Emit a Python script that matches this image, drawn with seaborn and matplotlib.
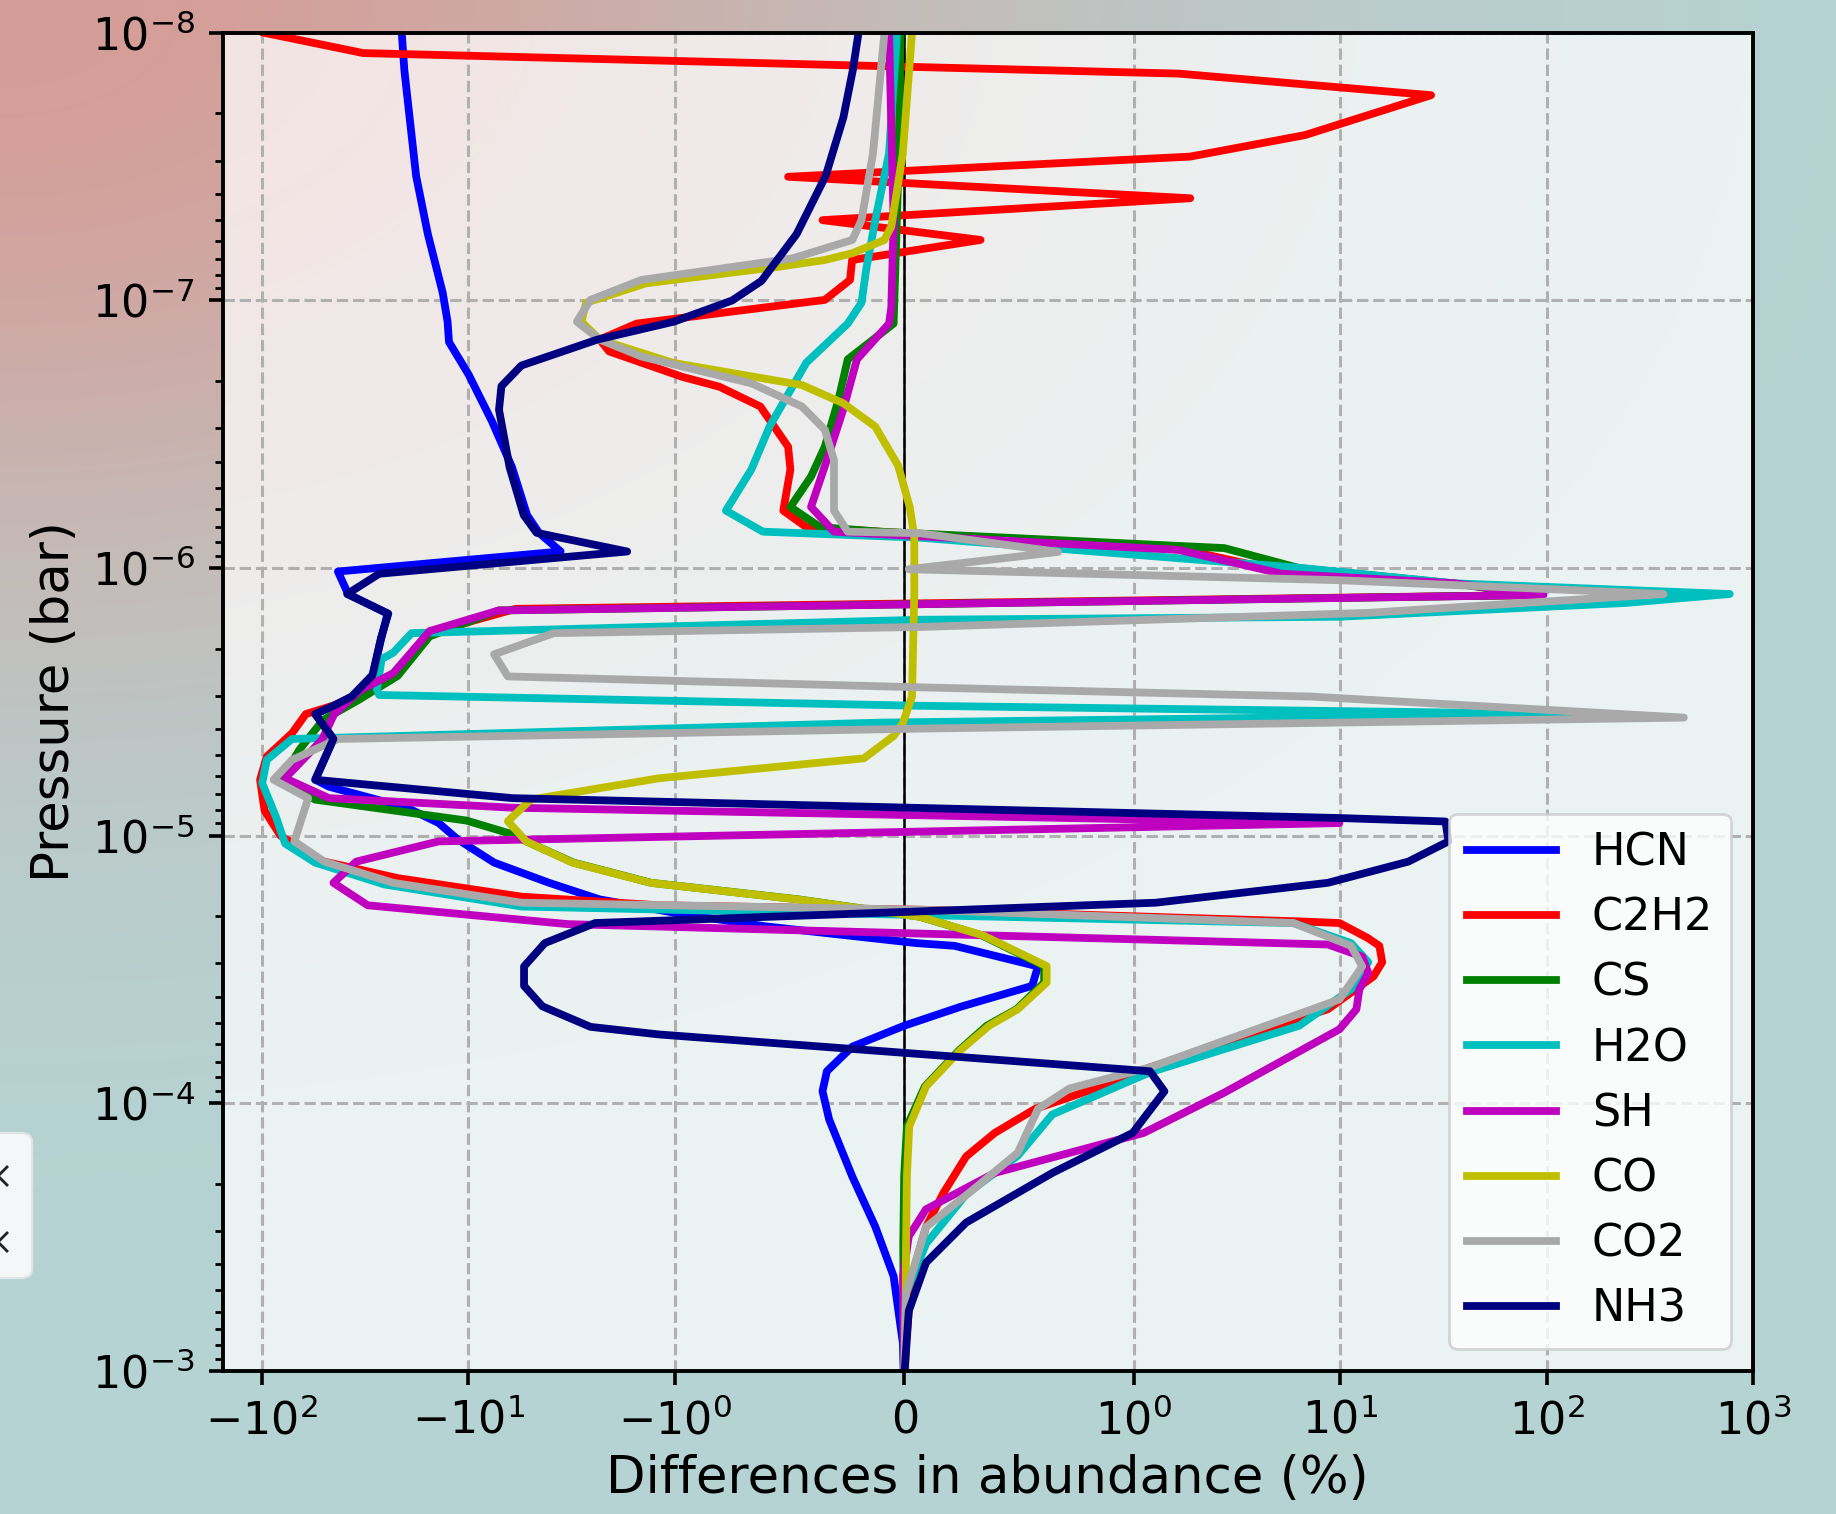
import numpy as np
import pandas as pd
import matplotlib
matplotlib.use("Agg")
import matplotlib.pyplot as plt
import seaborn as sns
from matplotlib.patches import FancyBboxPatch
from matplotlib.lines import Line2D
from matplotlib.ticker import NullLocator, LogLocator

species = ["HCN", "C2H2", "CS", "H2O", "SH", "CO", "CO2", "NH3"]
colors = ["b", "r", "g", "c", "m", "y", "darkgray", "navy"]

# Pressure levels (bar) and abundance differences (%) for each species
hcn_p = [1.00e-8, 1.38e-8, 3.42e-8, 5.65e-8, 9.36e-8, 1.20e-7, 1.43e-7, 1.89e-7, 2.83e-7, 4.20e-7,
         6.34e-7, 7.38e-7, 8.67e-7, 1.03e-6, 1.25e-6, 1.48e-6, 1.83e-6, 2.51e-6, 3.02e-6, 3.27e-6,
         3.51e-6, 4.35e-6, 6.18e-6, 6.56e-6, 7.86e-6, 8.97e-6, 1.03e-5, 1.26e-5, 1.50e-5, 1.73e-5,
         1.95e-5, 2.18e-5, 2.52e-5, 2.58e-5, 3.08e-5, 3.64e-5, 4.36e-5, 5.13e-5, 6.14e-5, 7.59e-5,
         9.01e-5, 1.15e-4, 1.88e-4, 2.89e-4, 4.43e-4, 7.85e-4, 1.00e-3]
hcn_d = [-21.0, -20.4, -17.9, -15.7, -13.3, -12.6, -12.4, -9.97, -7.68, -6.14,
         -5.19, -4.55, -3.57, -42.8, -38.2, -24.6, -26.4, -29.0, -36.5, -44.8,
         -55.0, -45.0, -55.0, -47.3, -19.8, -13.9, -11.3, -7.5, -4.06, -2.31,
         -0.987, -0.607, 0.054, 0.22, 0.583, 0.558, 0.245, 0.0, -0.226, -0.337,
         -0.356, -0.327, -0.226, -0.126, -0.046, -0.006, -0.002]

c2h2_p = [1.00e-8, 1.19e-8, 1.42e-8, 1.71e-8, 2.41e-8, 2.90e-8, 3.45e-8, 4.15e-8, 5.01e-8, 5.94e-8,
          7.06e-8, 8.38e-8, 9.95e-8, 1.22e-7, 1.40e-7, 1.55e-7, 1.66e-7, 1.93e-7, 2.10e-7, 2.49e-7,
          3.52e-7, 4.28e-7, 6.10e-7, 7.03e-7, 7.31e-7, 8.55e-7, 1.05e-6, 1.14e-6, 1.26e-6, 1.42e-6,
          1.74e-6, 2.47e-6, 3.11e-6, 3.51e-6, 4.14e-6, 5.06e-6, 6.18e-6, 8.06e-6, 1.00e-5, 1.24e-5,
          1.44e-5, 1.69e-5, 1.82e-5, 1.89e-5, 2.09e-5, 2.12e-5, 2.41e-5, 2.58e-5, 2.97e-5, 3.36e-5,
          4.45e-5, 5.07e-5, 7.34e-5, 9.02e-5, 1.05e-4, 1.29e-4, 1.58e-4, 2.17e-4, 2.90e-4, 4.45e-4,
          7.85e-4, 1.00e-3]
c2h2_d = [-97.0, -32.3, 1.65, 27.6, 6.76, 1.88, -0.506, 1.88, -0.356, 0.333,
          -0.227, -0.236, -0.346, -1.53, -2.31, -2.08, -1.61, -0.967, -0.806, -0.627,
          -0.506, -0.496, -0.527, -0.427, -0.105, 1.76, 5.94, 35.7, 93.0, -5.9,
          -15.1, -21.8, -36.7, -61.2, -71.4, -94.6, -102.0, -97.0, -81.2, -52.0,
          -22.0, -5.51, -1.19, 0.07, 6.34, 9.93, 13.6, 15.5, 16.0, 14.5,
          8.73, 5.22, 1.20, 0.796, 0.570, 0.395, 0.270, 0.170, 0.095, 0.033,
          0.008, 0.0025]

cs_p = [1.00e-8, 3.42e-8, 1.22e-7, 1.66e-7, 2.34e-7, 3.52e-7, 4.55e-7, 5.91e-7, 7.03e-7, 7.31e-7,
        8.42e-7, 1.00e-6, 1.14e-6, 1.26e-6, 1.44e-6, 1.80e-6, 2.53e-6, 3.11e-6, 3.70e-6, 4.76e-6,
        6.18e-6, 7.33e-6, 8.78e-6, 1.00e-5, 1.05e-5, 1.26e-5, 1.50e-5, 1.73e-5, 2.01e-5, 2.36e-5,
        3.07e-5, 3.54e-5, 4.45e-5, 5.13e-5, 6.33e-5, 8.65e-5, 1.22e-4, 1.86e-4, 3.34e-4, 1.00e-3]
cs_d = [-0.016, -0.026, -0.046, -0.246, -0.286, -0.346, -0.406, -0.496, -0.366, -0.105,
        2.75, 6.34, 35.0, 93.0, -7.13, -15.4, -22.0, -34.0, -50.6, -65.6,
        -80.4, -55.2, -10.2, -5.8, -5.24, -3.10, -1.30, -0.46, 0.07, 0.34,
        0.61, 0.61, 0.49, 0.36, 0.24, 0.09, 0.012, 0.0, -0.004, -0.002]

h2o_p = [1.00e-8, 2.82e-8, 5.01e-8, 7.69e-8, 1.02e-7, 1.22e-7, 1.71e-7, 2.95e-7, 4.28e-7, 6.10e-7,
         7.31e-7, 7.70e-7, 9.97e-7, 1.14e-6, 1.25e-6, 1.35e-6, 1.52e-6, 1.56e-6, 1.75e-6, 2.07e-6,
         2.19e-6, 2.85e-6, 2.98e-6, 3.27e-6, 3.51e-6, 3.78e-6, 4.35e-6, 5.21e-6, 6.36e-6, 8.49e-6,
         1.07e-5, 1.26e-5, 1.52e-5, 1.84e-5, 2.12e-5, 2.52e-5, 2.97e-5, 3.75e-5, 5.13e-5, 7.66e-5,
         1.10e-4, 1.57e-4, 2.19e-4, 3.35e-4, 5.13e-4, 1.00e-3]
h2o_d = [-0.031, -0.066, -0.126, -0.166, -0.186, -0.246, -0.427, -0.586, -0.666, -0.777,
         -0.616, 0.07, 6.3, 35.7, 771.0, 241.0, 9.93, 0.07, -18.8, -23.1,
         -26.3, -27.7, -27.0, 0.07, 129.0, -0.105, -71.4, -94.6, -99.6, -85.5,
         -77.1, -55.2, -25.6, -5.51, 5.94, 11.3, 13.7, 11.3, 6.33, 1.20,
         0.646, 0.495, 0.270, 0.095, 0.008, 0.0]

sh_p = [1.00e-8, 5.01e-8, 1.06e-7, 1.22e-7, 1.66e-7, 2.56e-7, 3.72e-7, 5.91e-7, 7.31e-7, 8.55e-7,
        1.05e-6, 1.14e-6, 1.26e-6, 1.44e-6, 1.72e-6, 2.47e-6, 2.85e-6, 3.51e-6, 4.38e-6, 6.10e-6,
        7.24e-6, 7.86e-6, 8.97e-6, 1.05e-5, 1.25e-5, 1.50e-5, 1.82e-5, 2.14e-5, 2.55e-5, 2.83e-5,
        3.26e-5, 3.75e-5, 4.45e-5, 5.29e-5, 9.12e-5, 1.29e-4, 1.82e-4, 2.49e-4, 3.14e-4, 4.43e-4,
        1.00e-3]
sh_d = [-0.066, -0.046, -0.056, -0.066, -0.206, -0.266, -0.327, -0.406, -0.306, 1.65,
        5.22, 35.7, 96.7, -7.13, -15.4, -23.1, -33.1, -44.6, -51.1, -77.1,
        -47.3, -6.1, 9.93, -13.9, -34.9, -45.0, -30.7, -3.3, 8.73, 12.8,
        13.7, 12.4, 12.0, 9.93, 2.75, 1.12, 0.395, 0.095, 0.020, -0.005,
        0.0]

co_p = [1.00e-8, 2.82e-8, 5.29e-8, 5.94e-8, 6.66e-8, 7.06e-8, 7.48e-8, 8.63e-8, 1.02e-7, 1.20e-7,
        1.40e-7, 1.71e-7, 2.07e-7, 2.42e-7, 2.96e-7, 4.15e-7, 5.91e-7, 7.60e-7, 1.25e-6, 3.02e-6,
        3.80e-6, 4.24e-6, 5.14e-6, 6.10e-6, 7.33e-6, 8.83e-6, 1.05e-5, 1.26e-5, 1.50e-5, 1.73e-5,
        2.01e-5, 2.36e-5, 3.07e-5, 3.54e-5, 4.45e-5, 5.13e-5, 6.33e-5, 8.65e-5, 1.22e-4, 1.86e-4,
        3.34e-4, 1.00e-3]
co_d = [0.034, -0.006, -0.056, -0.086, -0.226, -0.346, -0.546, -1.38, -2.69, -2.83,
        -2.31, -1.02, -0.446, -0.266, -0.126, -0.026, 0.024, 0.044, 0.044, 0.034,
        -0.006, -0.046, -0.176, -1.19, -4.98, -6.43, -5.24, -3.14, -1.31, -0.466,
        0.07, 0.345, 0.621, 0.621, 0.495, 0.370, 0.245, 0.095, 0.022, 0.012,
        0.008, 0.005]

co2_p = [1.00e-8, 2.82e-8, 5.01e-8, 5.94e-8, 6.96e-8, 8.38e-8, 9.95e-8, 1.20e-7, 1.40e-7, 1.62e-7,
         2.04e-7, 2.49e-7, 3.04e-7, 3.95e-7, 6.10e-7, 7.31e-7, 7.41e-7, 8.70e-7, 1.01e-6, 1.11e-6,
         1.25e-6, 1.47e-6, 1.66e-6, 1.75e-6, 2.10e-6, 2.54e-6, 2.79e-6, 3.02e-6, 3.62e-6, 3.98e-6,
         4.35e-6, 5.21e-6, 6.18e-6, 7.24e-6, 1.05e-5, 1.25e-5, 1.50e-5, 1.78e-5, 1.89e-5, 2.12e-5,
         2.58e-5, 3.08e-5, 4.09e-5, 7.34e-5, 8.80e-5, 1.05e-4, 1.53e-4, 2.12e-4, 2.90e-4, 5.13e-4,
         1.00e-3]
co2_d = [-0.086, -0.136, -0.186, -0.226, -0.486, -1.45, -2.56, -2.98, -2.31, -1.45,
         -0.666, -0.446, -0.346, -0.306, -0.306, -0.246, 0.07, 0.671, 0.02, 9.93,
         369.0, 13.7, 0.07, -3.85, -7.5, -6.43, 0.07, 7.2, 462.0, 0.07,
         -42.8, -71.4, -87.7, -59.6, -69.6, -49.8, -23.1, -5.51, 0.07, 5.94,
         11.3, 12.8, 9.93, 1.20, 0.721, 0.583, 0.495, 0.295, 0.095, 0.008,
         0.0]

nh3_p = [1.00e-8, 1.38e-8, 2.07e-8, 3.42e-8, 5.65e-8, 8.45e-8, 1.00e-7, 1.20e-7, 1.40e-7, 1.75e-7,
         2.09e-7, 2.56e-7, 4.20e-7, 6.34e-7, 7.38e-7, 8.67e-7, 1.05e-6, 1.25e-6, 1.48e-6, 1.83e-6,
         2.51e-6, 3.02e-6, 3.27e-6, 3.51e-6, 4.35e-6, 6.18e-6, 7.24e-6, 8.59e-6, 8.85e-6, 1.05e-5,
         1.25e-5, 1.50e-5, 1.78e-5, 1.92e-5, 2.12e-5, 2.52e-5, 3.08e-5, 3.64e-5, 4.34e-5, 5.18e-5,
         5.53e-5, 7.59e-5, 9.02e-5, 1.29e-4, 1.82e-4, 2.79e-4, 3.94e-4, 5.97e-4, 1.00e-3]
nh3_d = [-0.199, -0.224, -0.265, -0.342, -0.469, -0.622, -0.75, -1.01, -2.37, -5.53,
         -6.91, -7.1, -6.31, -5.39, -4.67, -1.70, -27.0, -38.6, -24.4, -26.5,
         -29.1, -36.7, -45.0, -55.2, -45.0, -55.2, -6.1, 9.93, 32.4, 33.5,
         21.4, 8.73, 1.28, 0.054, -2.43, -4.26, -5.37, -5.37, -4.38, -2.56,
         -1.19, 1.20, 1.41, 0.996, 0.646, 0.270, 0.095, 0.020, 0.002]

profiles = {
    "HCN": (hcn_p, hcn_d), "C2H2": (c2h2_p, c2h2_d), "CS": (cs_p, cs_d),
    "H2O": (h2o_p, h2o_d), "SH": (sh_p, sh_d), "CO": (co_p, co_d),
    "CO2": (co2_p, co2_d), "NH3": (nh3_p, nh3_d),
}
df = pd.concat(
    [pd.DataFrame({"species": name, "pressure": p, "diff": d})
     for name, (p, d) in profiles.items()],
    ignore_index=True,
)

plt.rcParams["font.family"] = ["DejaVu Sans"]
fig = plt.figure(figsize=(9.18, 7.57), dpi=200)

# soft warm-to-teal backdrop
bg = fig.add_axes([0, 0, 1, 1], zorder=-10)
H, W = 300, 364
yy, xx = np.mgrid[0:H, 0:W]
u = xx / (W - 1)
v = yy / (H - 1)
wgt = np.exp(-((u / 0.55) ** 2 + (v / 0.42) ** 2))[..., None]
warm = np.array([214, 157, 151]) / 255.0
cool = np.array([181, 212, 212]) / 255.0
img = cool * (1 - wgt) + warm * wgt
bg.imshow(img, aspect="auto", extent=[0, 1, 0, 1], origin="upper", interpolation="bilinear")
bg.set_axis_off()

ax = fig.add_axes([0.1212, 0.0945, 0.8336, 0.8838])
ax.patch.set_facecolor("white")
ax.patch.set_alpha(0.72)

sns.lineplot(data=df, x="diff", y="pressure", hue="species", hue_order=species,
             palette=dict(zip(species, colors)), sort=False, estimator=None,
             linewidth=2.8, ax=ax)

ax.axvline(0, color="black", lw=0.9, zorder=1.5)

ax.set_xscale("symlog", linthresh=1)
ax.set_yscale("log")
ax.set_xlim(-155, 1000)
ax.set_ylim(1e-3, 1e-8)
ax.set_xticks([-100, -10, -1, 0, 1, 10, 100, 1000])
ax.xaxis.set_minor_locator(NullLocator())
ax.yaxis.set_major_locator(LogLocator(base=10, numticks=10))
ax.yaxis.set_minor_locator(LogLocator(base=10, subs=np.arange(2, 10), numticks=20))

ax.set_axisbelow(True)
ax.grid(True, which="major", linestyle="--", color="#b0b0b0", linewidth=1.1)

ax.set_xlabel("Differences in abundance (%)", fontsize=18.5)
ax.set_ylabel("Pressure (bar)", fontsize=18.5)
ax.tick_params(axis="both", which="major", labelsize=16, length=5, width=1.3, pad=5)
ax.tick_params(axis="both", which="minor", length=3, width=1.0)
for s in ax.spines.values():
    s.set_linewidth(1.4)

old = ax.get_legend()
handles = old.legend_handles
labels = [t.get_text() for t in old.get_texts()]
old.remove()
leg = ax.legend(handles, labels, loc="lower right", fontsize=16, framealpha=0.8)
for h in leg.legend_handles:
    h.set_linewidth(2.8)

# small panel peeking in at the left edge, with its close marks
box = FancyBboxPatch((-0.02, 1 - 1278 / 1514), 0.0375, (1278 - 1133) / 1514,
                     boxstyle="round,pad=0,rounding_size=0.006",
                     transform=fig.transFigure, facecolor="#f3f7f7",
                     edgecolor="#dfe5e5", lw=0.8, zorder=5)
fig.patches.append(box)
for cy in (1176, 1242):
    cx = -2
    for sgn in (1, -1):
        fig.add_artist(Line2D([(cx - 9) / 1836, (cx + 9) / 1836],
                              [1 - (cy - 9 * sgn) / 1514, 1 - (cy + 9 * sgn) / 1514],
                              transform=fig.transFigure, color="#222222", lw=1.0, zorder=6))

fig.savefig("out.png", dpi=200)
